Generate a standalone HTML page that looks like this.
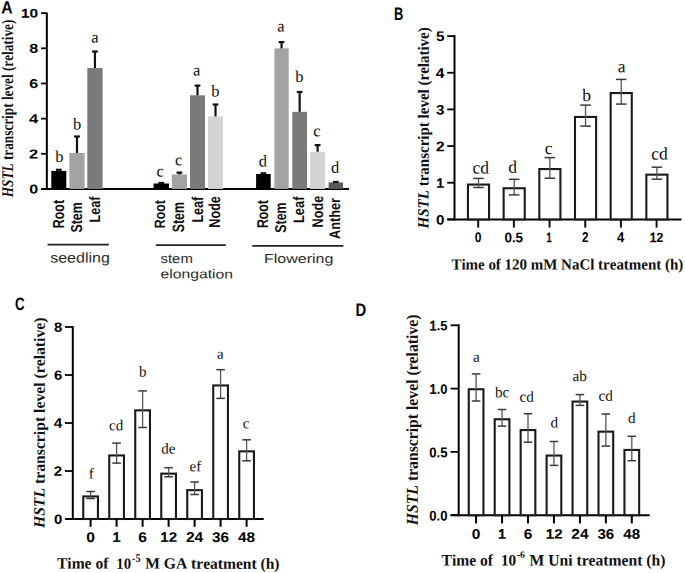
<!DOCTYPE html>
<html><head><meta charset="utf-8"><style>
html,body{margin:0;padding:0;background:#fff;}
body{width:685px;height:573px;overflow:hidden;}
svg{display:block;}
#w{width:685px;height:573px;}
text{font-kerning:none;font-variant-ligatures:none;}
</style></head><body>
<div id="w"><svg width="685" height="573" viewBox="0 0 685 573">
<rect width="685" height="573" fill="#fff"/>
<text transform="translate(1.200 13.500) rotate(0.03) scale(0.15789 0.17878)" y="0" font-size="100" fill="#000" xml:space="preserve"><tspan x="0.00" font-family='"Liberation Sans", sans-serif' font-weight="bold" font-style="normal">A</tspan></text>
<line x1="46.85" y1="12.60" x2="46.85" y2="189.90" stroke="#000" stroke-width="2.0"/>
<line x1="41.20" y1="188.95" x2="349.00" y2="188.95" stroke="#000" stroke-width="1.9"/>
<line x1="41.10" y1="188.95" x2="46.85" y2="188.95" stroke="#000" stroke-width="1.8"/>
<text transform="translate(29.162 193.471) rotate(0.03) scale(0.16076 0.12853)" y="0" font-size="100" fill="#000" xml:space="preserve"><tspan x="0.00" font-family='"Liberation Sans", sans-serif' font-weight="bold" font-style="normal">0</tspan></text>
<line x1="41.10" y1="153.79" x2="46.85" y2="153.79" stroke="#000" stroke-width="1.8"/>
<text transform="translate(29.038 158.440) rotate(0.03) scale(0.16299 0.13037)" y="0" font-size="100" fill="#000" xml:space="preserve"><tspan x="0.00" font-family='"Liberation Sans", sans-serif' font-weight="bold" font-style="normal">2</tspan></text>
<line x1="41.10" y1="118.63" x2="46.85" y2="118.63" stroke="#000" stroke-width="1.8"/>
<text transform="translate(28.910 123.280) rotate(0.03) scale(0.16528 0.13227)" y="0" font-size="100" fill="#000" xml:space="preserve"><tspan x="0.00" font-family='"Liberation Sans", sans-serif' font-weight="bold" font-style="normal">4</tspan></text>
<line x1="41.10" y1="83.47" x2="46.85" y2="83.47" stroke="#000" stroke-width="1.8"/>
<text transform="translate(29.162 87.991) rotate(0.03) scale(0.16076 0.12853)" y="0" font-size="100" fill="#000" xml:space="preserve"><tspan x="0.00" font-family='"Liberation Sans", sans-serif' font-weight="bold" font-style="normal">6</tspan></text>
<line x1="41.10" y1="48.31" x2="46.85" y2="48.31" stroke="#000" stroke-width="1.8"/>
<text transform="translate(29.162 52.831) rotate(0.03) scale(0.16076 0.12853)" y="0" font-size="100" fill="#000" xml:space="preserve"><tspan x="0.00" font-family='"Liberation Sans", sans-serif' font-weight="bold" font-style="normal">8</tspan></text>
<line x1="41.10" y1="13.15" x2="46.85" y2="13.15" stroke="#000" stroke-width="1.8"/>
<text transform="translate(20.910 17.492) rotate(0.03) scale(0.15459 0.12331)" y="0" font-size="100" fill="#000" xml:space="preserve"><tspan x="0.00" font-family='"Liberation Sans", sans-serif' font-weight="normal" font-style="normal" stroke="#000" stroke-width="5.00">1</tspan><tspan x="55.60" font-family='"Liberation Sans", sans-serif' font-weight="bold" font-style="normal">0</tspan></text>
<text transform="translate(13.200 197.194) rotate(-89.97) scale(0.13247 0.16336)" y="0" font-size="100" fill="#111" xml:space="preserve"><tspan x="0.00" font-family='"Liberation Serif", serif' font-weight="bold" font-style="italic">HSTL</tspan><tspan x="255.60" font-family='"Liberation Serif", serif' font-weight="bold" font-style="normal"> transcript level (relative)</tspan></text>
<rect x="51.30" y="170.90" width="15.00" height="18.05" fill="#000"/>
<line x1="55.90" y1="169.80" x2="61.70" y2="169.80" stroke="#111" stroke-width="2.2"/>
<rect x="69.40" y="153.00" width="15.20" height="35.95" fill="#a3a3a3"/>
<line x1="77.00" y1="136.50" x2="77.00" y2="153.00" stroke="#111" stroke-width="2.2"/>
<line x1="74.10" y1="136.50" x2="79.90" y2="136.50" stroke="#111" stroke-width="2.2"/>
<rect x="87.30" y="68.00" width="15.30" height="120.95" fill="#7a7a7a"/>
<line x1="94.95" y1="51.50" x2="94.95" y2="68.00" stroke="#111" stroke-width="2.2"/>
<line x1="92.05" y1="51.50" x2="97.85" y2="51.50" stroke="#111" stroke-width="2.2"/>
<rect x="153.60" y="183.50" width="15.40" height="5.45" fill="#000"/>
<line x1="158.40" y1="183.00" x2="164.20" y2="183.00" stroke="#111" stroke-width="2.2"/>
<rect x="171.80" y="174.40" width="15.20" height="14.55" fill="#a3a3a3"/>
<line x1="179.40" y1="172.60" x2="179.40" y2="174.40" stroke="#111" stroke-width="2.2"/>
<line x1="176.50" y1="172.60" x2="182.30" y2="172.60" stroke="#111" stroke-width="2.2"/>
<rect x="190.00" y="95.30" width="15.00" height="93.65" fill="#7a7a7a"/>
<line x1="197.50" y1="85.60" x2="197.50" y2="95.30" stroke="#111" stroke-width="2.2"/>
<line x1="194.60" y1="85.60" x2="200.40" y2="85.60" stroke="#111" stroke-width="2.2"/>
<rect x="208.00" y="116.40" width="15.00" height="72.55" fill="#d4d4d4"/>
<line x1="215.50" y1="104.50" x2="215.50" y2="116.40" stroke="#111" stroke-width="2.2"/>
<line x1="212.60" y1="104.50" x2="218.40" y2="104.50" stroke="#111" stroke-width="2.2"/>
<rect x="256.10" y="174.00" width="14.60" height="14.95" fill="#000"/>
<line x1="260.50" y1="173.30" x2="266.30" y2="173.30" stroke="#111" stroke-width="2.2"/>
<rect x="274.40" y="48.40" width="14.30" height="140.55" fill="#a3a3a3"/>
<line x1="281.55" y1="42.10" x2="281.55" y2="48.40" stroke="#111" stroke-width="2.2"/>
<line x1="278.65" y1="42.10" x2="284.45" y2="42.10" stroke="#111" stroke-width="2.2"/>
<rect x="292.30" y="111.80" width="14.70" height="77.15" fill="#7a7a7a"/>
<line x1="299.65" y1="92.00" x2="299.65" y2="111.80" stroke="#111" stroke-width="2.2"/>
<line x1="296.75" y1="92.00" x2="302.55" y2="92.00" stroke="#111" stroke-width="2.2"/>
<rect x="310.10" y="151.80" width="15.00" height="37.15" fill="#d4d4d4"/>
<line x1="317.60" y1="145.10" x2="317.60" y2="151.80" stroke="#111" stroke-width="2.2"/>
<line x1="314.70" y1="145.10" x2="320.50" y2="145.10" stroke="#111" stroke-width="2.2"/>
<rect x="328.60" y="182.50" width="14.40" height="6.45" fill="#5a5a5a"/>
<line x1="332.90" y1="182.00" x2="338.70" y2="182.00" stroke="#111" stroke-width="2.2"/>
<text x="55.17" y="161.94" transform="rotate(0.03 55.17 161.94)" font-family='"Liberation Serif", serif' font-size="16.5" fill="#111">b</text>
<text x="73.12" y="129.44" transform="rotate(0.03 73.12 129.44)" font-family='"Liberation Serif", serif' font-size="16.5" fill="#111">b</text>
<text x="91.14" y="42.44" transform="rotate(0.03 91.14 42.44)" font-family='"Liberation Serif", serif' font-size="16.5" fill="#111">a</text>
<text x="156.54" y="176.44" transform="rotate(0.03 156.54 176.44)" font-family='"Liberation Serif", serif' font-size="16.5" fill="#111">c</text>
<text x="174.99" y="165.23" transform="rotate(0.03 174.99 165.23)" font-family='"Liberation Serif", serif' font-size="16.5" fill="#111">c</text>
<text x="193.09" y="75.44" transform="rotate(0.03 193.09 75.44)" font-family='"Liberation Serif", serif' font-size="16.5" fill="#111">a</text>
<text x="211.23" y="96.63" transform="rotate(0.03 211.23 96.63)" font-family='"Liberation Serif", serif' font-size="16.5" fill="#111">b</text>
<text x="258.68" y="166.53" transform="rotate(0.03 258.68 166.53)" font-family='"Liberation Serif", serif' font-size="16.5" fill="#111">d</text>
<text x="277.14" y="31.54" transform="rotate(0.03 277.14 31.54)" font-family='"Liberation Serif", serif' font-size="16.5" fill="#111">a</text>
<text x="295.23" y="82.03" transform="rotate(0.03 295.23 82.03)" font-family='"Liberation Serif", serif' font-size="16.5" fill="#111">b</text>
<text x="313.29" y="136.34" transform="rotate(0.03 313.29 136.34)" font-family='"Liberation Serif", serif' font-size="16.5" fill="#111">c</text>
<text x="331.02" y="172.84" transform="rotate(0.03 331.02 172.84)" font-family='"Liberation Serif", serif' font-size="16.5" fill="#111">d</text>
<text transform="translate(63.740 228.200) rotate(-89.97) scale(0.12429 0.16046)" y="0" font-size="100" fill="#111" xml:space="preserve"><tspan x="0.00" font-family='"Liberation Sans", sans-serif' font-weight="bold" font-style="normal">Root</tspan></text>
<text transform="translate(81.740 232.600) rotate(-89.97) scale(0.12474 0.15960)" y="0" font-size="100" fill="#111" xml:space="preserve"><tspan x="0.00" font-family='"Liberation Sans", sans-serif' font-weight="bold" font-style="normal">Stem</tspan></text>
<text transform="translate(99.648 222.500) rotate(-89.97) scale(0.12682 0.15238)" y="0" font-size="100" fill="#111" xml:space="preserve"><tspan x="0.00" font-family='"Liberation Sans", sans-serif' font-weight="bold" font-style="normal">Leaf</tspan></text>
<text transform="translate(165.350 228.200) rotate(-89.97) scale(0.12297 0.15043)" y="0" font-size="100" fill="#111" xml:space="preserve"><tspan x="0.00" font-family='"Liberation Sans", sans-serif' font-weight="bold" font-style="normal">Root</tspan></text>
<text transform="translate(184.035 232.300) rotate(-89.97) scale(0.12393 0.16525)" y="0" font-size="100" fill="#111" xml:space="preserve"><tspan x="0.00" font-family='"Liberation Sans", sans-serif' font-weight="bold" font-style="normal">Stem</tspan></text>
<text transform="translate(202.642 222.600) rotate(-89.97) scale(0.12585 0.15782)" y="0" font-size="100" fill="#111" xml:space="preserve"><tspan x="0.00" font-family='"Liberation Sans", sans-serif' font-weight="bold" font-style="normal">Leaf</tspan></text>
<text transform="translate(220.241 227.700) rotate(-89.97) scale(0.12640 0.15918)" y="0" font-size="100" fill="#111" xml:space="preserve"><tspan x="0.00" font-family='"Liberation Sans", sans-serif' font-weight="bold" font-style="normal">Node</tspan></text>
<text transform="translate(268.442 228.100) rotate(-89.97) scale(0.12341 0.15759)" y="0" font-size="100" fill="#111" xml:space="preserve"><tspan x="0.00" font-family='"Liberation Sans", sans-serif' font-weight="bold" font-style="normal">Root</tspan></text>
<text transform="translate(286.242 232.700) rotate(-89.97) scale(0.12352 0.15819)" y="0" font-size="100" fill="#111" xml:space="preserve"><tspan x="0.00" font-family='"Liberation Sans", sans-serif' font-weight="bold" font-style="normal">Stem</tspan></text>
<text transform="translate(304.248 223.000) rotate(-89.97) scale(0.12877 0.15238)" y="0" font-size="100" fill="#111" xml:space="preserve"><tspan x="0.00" font-family='"Liberation Sans", sans-serif' font-weight="bold" font-style="normal">Leaf</tspan></text>
<text transform="translate(322.545 227.400) rotate(-89.97) scale(0.12640 0.15510)" y="0" font-size="100" fill="#111" xml:space="preserve"><tspan x="0.00" font-family='"Liberation Sans", sans-serif' font-weight="bold" font-style="normal">Node</tspan></text>
<text transform="translate(340.348 238.900) rotate(-89.97) scale(0.12725 0.15238)" y="0" font-size="100" fill="#111" xml:space="preserve"><tspan x="0.00" font-family='"Liberation Sans", sans-serif' font-weight="bold" font-style="normal">Anther</tspan></text>
<line x1="47.60" y1="244.60" x2="108.90" y2="244.60" stroke="#222" stroke-width="1.8"/>
<line x1="155.80" y1="245.10" x2="225.80" y2="245.10" stroke="#222" stroke-width="1.8"/>
<line x1="252.30" y1="245.80" x2="343.40" y2="245.80" stroke="#222" stroke-width="1.8"/>
<text transform="translate(50.200 262.380) rotate(0.03) scale(0.16004 0.14041)" y="0" font-size="100" fill="#2b2b2b" xml:space="preserve"><tspan x="0.00" font-family='"Liberation Sans", sans-serif' font-weight="normal" font-style="normal">seedling</tspan></text>
<text transform="translate(160.500 263.067) rotate(0.03) scale(0.14952 0.13262)" y="0" font-size="100" fill="#2b2b2b" xml:space="preserve"><tspan x="0.00" font-family='"Liberation Sans", sans-serif' font-weight="normal" font-style="normal">stem</tspan></text>
<text transform="translate(160.500 278.347) rotate(0.03) scale(0.15735 0.12755)" y="0" font-size="100" fill="#2b2b2b" xml:space="preserve"><tspan x="0.00" font-family='"Liberation Sans", sans-serif' font-weight="normal" font-style="normal">elongation</tspan></text>
<text transform="translate(264.000 263.002) rotate(0.03) scale(0.16013 0.12969)" y="0" font-size="100" fill="#2b2b2b" xml:space="preserve"><tspan x="0.00" font-family='"Liberation Sans", sans-serif' font-weight="normal" font-style="normal">Flowering</tspan></text>
<text transform="translate(394.100 19.800) rotate(0.03) scale(0.12881 0.18023)" y="0" font-size="100" fill="#000" xml:space="preserve"><tspan x="0.00" font-family='"Liberation Sans", sans-serif' font-weight="bold" font-style="normal">B</tspan></text>
<line x1="454.50" y1="35.20" x2="454.50" y2="220.40" stroke="#000" stroke-width="2.0"/>
<line x1="447.20" y1="219.40" x2="681.50" y2="219.40" stroke="#000" stroke-width="2.0"/>
<line x1="447.20" y1="219.40" x2="454.50" y2="219.40" stroke="#000" stroke-width="1.8"/>
<text transform="translate(436.080 224.413) rotate(0.03) scale(0.15144 0.13701)" y="0" font-size="100" fill="#000" xml:space="preserve"><tspan x="0.00" font-family='"Liberation Sans", sans-serif' font-weight="bold" font-style="normal">0</tspan></text>
<line x1="447.20" y1="182.74" x2="454.50" y2="182.74" stroke="#000" stroke-width="1.8"/>
<text transform="translate(436.201 187.561) rotate(0.03) scale(0.14284 0.13144)" y="0" font-size="100" fill="#000" xml:space="preserve"><tspan x="0.00" font-family='"Liberation Sans", sans-serif' font-weight="normal" font-style="normal" stroke="#000" stroke-width="5.00">1</tspan></text>
<line x1="447.20" y1="146.08" x2="454.50" y2="146.08" stroke="#000" stroke-width="1.8"/>
<text transform="translate(435.964 151.230) rotate(0.03) scale(0.15353 0.13897)" y="0" font-size="100" fill="#000" xml:space="preserve"><tspan x="0.00" font-family='"Liberation Sans", sans-serif' font-weight="bold" font-style="normal">2</tspan></text>
<line x1="447.20" y1="109.42" x2="454.50" y2="109.42" stroke="#000" stroke-width="1.8"/>
<text transform="translate(436.091 114.420) rotate(0.03) scale(0.15123 0.13681)" y="0" font-size="100" fill="#000" xml:space="preserve"><tspan x="0.00" font-family='"Liberation Sans", sans-serif' font-weight="bold" font-style="normal">3</tspan></text>
<line x1="447.20" y1="72.76" x2="454.50" y2="72.76" stroke="#000" stroke-width="1.8"/>
<text transform="translate(435.844 77.910) rotate(0.03) scale(0.15569 0.14099)" y="0" font-size="100" fill="#000" xml:space="preserve"><tspan x="0.00" font-family='"Liberation Sans", sans-serif' font-weight="bold" font-style="normal">4</tspan></text>
<line x1="447.20" y1="36.10" x2="454.50" y2="36.10" stroke="#000" stroke-width="1.8"/>
<text transform="translate(435.964 41.111) rotate(0.03) scale(0.15353 0.13897)" y="0" font-size="100" fill="#000" xml:space="preserve"><tspan x="0.00" font-family='"Liberation Sans", sans-serif' font-weight="bold" font-style="normal">5</tspan></text>
<text transform="translate(428.600 228.380) rotate(-89.97) scale(0.15005 0.15878)" y="0" font-size="100" fill="#111" xml:space="preserve"><tspan x="0.00" font-family='"Liberation Serif", serif' font-weight="bold" font-style="italic">HSTL</tspan><tspan x="255.60" font-family='"Liberation Serif", serif' font-weight="bold" font-style="normal"> transcript level (relative)</tspan></text>
<rect x="467.95" y="184.55" width="21.10" height="34.85" fill="#fff" stroke="#1a1a1a" stroke-width="2.1"/>
<line x1="478.50" y1="178.40" x2="478.50" y2="187.50" stroke="#555" stroke-width="1.3"/>
<line x1="473.20" y1="178.40" x2="483.80" y2="178.40" stroke="#3a3a3a" stroke-width="1.5"/>
<line x1="473.20" y1="187.50" x2="483.80" y2="187.50" stroke="#3a3a3a" stroke-width="1.5"/>
<line x1="478.20" y1="219.40" x2="478.20" y2="227.60" stroke="#111" stroke-width="2.0"/>
<rect x="503.63" y="188.25" width="21.10" height="31.15" fill="#fff" stroke="#1a1a1a" stroke-width="2.1"/>
<line x1="514.18" y1="179.30" x2="514.18" y2="194.90" stroke="#555" stroke-width="1.3"/>
<line x1="508.88" y1="179.30" x2="519.48" y2="179.30" stroke="#3a3a3a" stroke-width="1.5"/>
<line x1="508.88" y1="194.90" x2="519.48" y2="194.90" stroke="#3a3a3a" stroke-width="1.5"/>
<line x1="513.88" y1="219.40" x2="513.88" y2="227.60" stroke="#111" stroke-width="2.0"/>
<rect x="539.31" y="169.05" width="21.10" height="50.35" fill="#fff" stroke="#1a1a1a" stroke-width="2.1"/>
<line x1="549.86" y1="157.60" x2="549.86" y2="178.20" stroke="#555" stroke-width="1.3"/>
<line x1="544.56" y1="157.60" x2="555.16" y2="157.60" stroke="#3a3a3a" stroke-width="1.5"/>
<line x1="544.56" y1="178.20" x2="555.16" y2="178.20" stroke="#3a3a3a" stroke-width="1.5"/>
<line x1="549.56" y1="219.40" x2="549.56" y2="227.60" stroke="#111" stroke-width="2.0"/>
<rect x="574.99" y="116.95" width="21.10" height="102.45" fill="#fff" stroke="#1a1a1a" stroke-width="2.1"/>
<line x1="585.54" y1="105.10" x2="585.54" y2="126.10" stroke="#555" stroke-width="1.3"/>
<line x1="580.24" y1="105.10" x2="590.84" y2="105.10" stroke="#3a3a3a" stroke-width="1.5"/>
<line x1="580.24" y1="126.10" x2="590.84" y2="126.10" stroke="#3a3a3a" stroke-width="1.5"/>
<line x1="585.24" y1="219.40" x2="585.24" y2="227.60" stroke="#111" stroke-width="2.0"/>
<rect x="610.67" y="93.05" width="21.10" height="126.35" fill="#fff" stroke="#1a1a1a" stroke-width="2.1"/>
<line x1="621.22" y1="79.40" x2="621.22" y2="104.10" stroke="#555" stroke-width="1.3"/>
<line x1="615.92" y1="79.40" x2="626.52" y2="79.40" stroke="#3a3a3a" stroke-width="1.5"/>
<line x1="615.92" y1="104.10" x2="626.52" y2="104.10" stroke="#3a3a3a" stroke-width="1.5"/>
<line x1="620.92" y1="219.40" x2="620.92" y2="227.60" stroke="#111" stroke-width="2.0"/>
<rect x="646.35" y="174.65" width="21.10" height="44.75" fill="#fff" stroke="#1a1a1a" stroke-width="2.1"/>
<line x1="656.90" y1="167.20" x2="656.90" y2="179.20" stroke="#555" stroke-width="1.3"/>
<line x1="651.60" y1="167.20" x2="662.20" y2="167.20" stroke="#3a3a3a" stroke-width="1.5"/>
<line x1="651.60" y1="179.20" x2="662.20" y2="179.20" stroke="#3a3a3a" stroke-width="1.5"/>
<line x1="656.60" y1="219.40" x2="656.60" y2="227.60" stroke="#111" stroke-width="2.0"/>
<text transform="translate(474.800 242.160) rotate(0.03) scale(0.12050 0.13983)" y="0" font-size="100" fill="#000" xml:space="preserve"><tspan x="0.00" font-family='"Liberation Sans", sans-serif' font-weight="bold" font-style="normal">0</tspan></text>
<text transform="translate(504.400 242.160) rotate(0.03) scale(0.13453 0.13983)" y="0" font-size="100" fill="#000" xml:space="preserve"><tspan x="0.00" font-family='"Liberation Sans", sans-serif' font-weight="bold" font-style="normal">0.5</tspan></text>
<text transform="translate(546.535 241.965) rotate(0.03) scale(0.09406 0.13415)" y="0" font-size="100" fill="#000" xml:space="preserve"><tspan x="0.00" font-family='"Liberation Sans", sans-serif' font-weight="normal" font-style="normal" stroke="#000" stroke-width="5.00">1</tspan></text>
<text transform="translate(581.900 242.300) rotate(0.03) scale(0.11691 0.14183)" y="0" font-size="100" fill="#000" xml:space="preserve"><tspan x="0.00" font-family='"Liberation Sans", sans-serif' font-weight="bold" font-style="normal">2</tspan></text>
<text transform="translate(617.000 242.300) rotate(0.03) scale(0.13129 0.14390)" y="0" font-size="100" fill="#000" xml:space="preserve"><tspan x="0.00" font-family='"Liberation Sans", sans-serif' font-weight="bold" font-style="normal">4</tspan></text>
<text transform="translate(649.703 241.965) rotate(0.03) scale(0.12137 0.13415)" y="0" font-size="100" fill="#000" xml:space="preserve"><tspan x="0.00" font-family='"Liberation Sans", sans-serif' font-weight="normal" font-style="normal" stroke="#000" stroke-width="5.00">1</tspan><tspan x="55.60" font-family='"Liberation Sans", sans-serif' font-weight="bold" font-style="normal">2</tspan></text>
<text x="472.49" y="173.42" transform="rotate(0.03 472.49 173.42)" font-family='"Liberation Serif", serif' font-size="17.5" fill="#111">cd</text>
<text x="508.33" y="172.82" transform="rotate(0.03 508.33 172.82)" font-family='"Liberation Serif", serif' font-size="17.5" fill="#111">d</text>
<text x="544.87" y="153.92" transform="rotate(0.03 544.87 153.92)" font-family='"Liberation Serif", serif' font-size="17.5" fill="#111">c</text>
<text x="582.22" y="101.12" transform="rotate(0.03 582.22 101.12)" font-family='"Liberation Serif", serif' font-size="17.5" fill="#111">b</text>
<text x="617.87" y="72.23" transform="rotate(0.03 617.87 72.23)" font-family='"Liberation Serif", serif' font-size="17.5" fill="#111">a</text>
<text x="651.34" y="159.42" transform="rotate(0.03 651.34 159.42)" font-family='"Liberation Serif", serif' font-size="17.5" fill="#111">cd</text>
<text transform="translate(451.400 269.500) rotate(0.03) scale(0.14979 0.15420)" y="0" font-size="100" fill="#111" xml:space="preserve"><tspan x="0.00" font-family='"Liberation Serif", serif' font-weight="bold" font-style="normal">Time of 120 mM NaCl treatment (h)</tspan></text>
<text transform="translate(15.000 310.421) rotate(0.03) scale(0.13296 0.17938)" y="0" font-size="100" fill="#000" xml:space="preserve"><tspan x="0.00" font-family='"Liberation Sans", sans-serif' font-weight="bold" font-style="normal">C</tspan></text>
<line x1="72.80" y1="326.20" x2="72.80" y2="520.00" stroke="#000" stroke-width="2.0"/>
<line x1="65.00" y1="519.00" x2="263.70" y2="519.00" stroke="#000" stroke-width="2.0"/>
<line x1="65.00" y1="519.00" x2="72.80" y2="519.00" stroke="#000" stroke-width="1.8"/>
<text transform="translate(53.953 523.716) rotate(0.03) scale(0.14833 0.13418)" y="0" font-size="100" fill="#000" xml:space="preserve"><tspan x="0.00" font-family='"Liberation Sans", sans-serif' font-weight="bold" font-style="normal">0</tspan></text>
<line x1="65.00" y1="471.00" x2="72.80" y2="471.00" stroke="#000" stroke-width="1.8"/>
<text transform="translate(53.839 475.850) rotate(0.03) scale(0.15038 0.13610)" y="0" font-size="100" fill="#000" xml:space="preserve"><tspan x="0.00" font-family='"Liberation Sans", sans-serif' font-weight="bold" font-style="normal">2</tspan></text>
<line x1="65.00" y1="423.00" x2="72.80" y2="423.00" stroke="#000" stroke-width="1.8"/>
<text transform="translate(53.722 427.850) rotate(0.03) scale(0.15249 0.13808)" y="0" font-size="100" fill="#000" xml:space="preserve"><tspan x="0.00" font-family='"Liberation Sans", sans-serif' font-weight="bold" font-style="normal">4</tspan></text>
<line x1="65.00" y1="375.00" x2="72.80" y2="375.00" stroke="#000" stroke-width="1.8"/>
<text transform="translate(53.953 379.716) rotate(0.03) scale(0.14833 0.13418)" y="0" font-size="100" fill="#000" xml:space="preserve"><tspan x="0.00" font-family='"Liberation Sans", sans-serif' font-weight="bold" font-style="normal">6</tspan></text>
<line x1="65.00" y1="327.00" x2="72.80" y2="327.00" stroke="#000" stroke-width="1.8"/>
<text transform="translate(53.953 331.716) rotate(0.03) scale(0.14833 0.13418)" y="0" font-size="100" fill="#000" xml:space="preserve"><tspan x="0.00" font-family='"Liberation Sans", sans-serif' font-weight="bold" font-style="normal">8</tspan></text>
<text transform="translate(44.600 528.074) rotate(-89.97) scale(0.15713 0.15878)" y="0" font-size="100" fill="#111" xml:space="preserve"><tspan x="0.00" font-family='"Liberation Serif", serif' font-weight="bold" font-style="italic">HSTL</tspan><tspan x="255.60" font-family='"Liberation Serif", serif' font-weight="bold" font-style="normal"> transcript level (relative)</tspan></text>
<rect x="83.25" y="496.45" width="14.70" height="22.55" fill="#fff" stroke="#1a1a1a" stroke-width="2.1"/>
<line x1="90.60" y1="491.50" x2="90.60" y2="498.50" stroke="#555" stroke-width="1.3"/>
<line x1="86.30" y1="491.50" x2="94.90" y2="491.50" stroke="#3a3a3a" stroke-width="1.5"/>
<line x1="86.30" y1="498.50" x2="94.90" y2="498.50" stroke="#3a3a3a" stroke-width="1.5"/>
<line x1="90.60" y1="519.00" x2="90.60" y2="526.80" stroke="#000" stroke-width="2.0"/>
<text transform="translate(86.260 541.959) rotate(0.03) scale(0.15610 0.14124)" y="0" font-size="100" fill="#000" xml:space="preserve"><tspan x="0.00" font-family='"Liberation Sans", sans-serif' font-weight="bold" font-style="normal">0</tspan></text>
<rect x="109.25" y="455.45" width="14.70" height="63.55" fill="#fff" stroke="#1a1a1a" stroke-width="2.1"/>
<line x1="116.60" y1="443.10" x2="116.60" y2="463.10" stroke="#555" stroke-width="1.3"/>
<line x1="112.30" y1="443.10" x2="120.90" y2="443.10" stroke="#3a3a3a" stroke-width="1.5"/>
<line x1="112.30" y1="463.10" x2="120.90" y2="463.10" stroke="#3a3a3a" stroke-width="1.5"/>
<line x1="116.60" y1="519.00" x2="116.60" y2="526.80" stroke="#000" stroke-width="2.0"/>
<text transform="translate(112.507 541.761) rotate(0.03) scale(0.14724 0.13550)" y="0" font-size="100" fill="#000" xml:space="preserve"><tspan x="0.00" font-family='"Liberation Sans", sans-serif' font-weight="normal" font-style="normal" stroke="#000" stroke-width="5.00">1</tspan></text>
<rect x="135.25" y="410.35" width="14.70" height="108.65" fill="#fff" stroke="#1a1a1a" stroke-width="2.1"/>
<line x1="142.60" y1="390.90" x2="142.60" y2="427.50" stroke="#555" stroke-width="1.3"/>
<line x1="138.30" y1="390.90" x2="146.90" y2="390.90" stroke="#3a3a3a" stroke-width="1.5"/>
<line x1="138.30" y1="427.50" x2="146.90" y2="427.50" stroke="#3a3a3a" stroke-width="1.5"/>
<line x1="142.60" y1="519.00" x2="142.60" y2="526.80" stroke="#000" stroke-width="2.0"/>
<text transform="translate(138.260 541.959) rotate(0.03) scale(0.15610 0.14124)" y="0" font-size="100" fill="#000" xml:space="preserve"><tspan x="0.00" font-family='"Liberation Sans", sans-serif' font-weight="bold" font-style="normal">6</tspan></text>
<rect x="161.25" y="473.65" width="14.70" height="45.35" fill="#fff" stroke="#1a1a1a" stroke-width="2.1"/>
<line x1="168.60" y1="467.70" x2="168.60" y2="476.80" stroke="#555" stroke-width="1.3"/>
<line x1="164.30" y1="467.70" x2="172.90" y2="467.70" stroke="#3a3a3a" stroke-width="1.5"/>
<line x1="164.30" y1="476.80" x2="172.90" y2="476.80" stroke="#3a3a3a" stroke-width="1.5"/>
<line x1="168.60" y1="519.00" x2="168.60" y2="526.80" stroke="#000" stroke-width="2.0"/>
<text transform="translate(160.331 541.761) rotate(0.03) scale(0.15214 0.13550)" y="0" font-size="100" fill="#000" xml:space="preserve"><tspan x="0.00" font-family='"Liberation Sans", sans-serif' font-weight="normal" font-style="normal" stroke="#000" stroke-width="5.00">1</tspan><tspan x="55.60" font-family='"Liberation Sans", sans-serif' font-weight="bold" font-style="normal">2</tspan></text>
<rect x="187.25" y="490.15" width="14.70" height="28.85" fill="#fff" stroke="#1a1a1a" stroke-width="2.1"/>
<line x1="194.60" y1="482.00" x2="194.60" y2="494.50" stroke="#555" stroke-width="1.3"/>
<line x1="190.30" y1="482.00" x2="198.90" y2="482.00" stroke="#3a3a3a" stroke-width="1.5"/>
<line x1="190.30" y1="494.50" x2="198.90" y2="494.50" stroke="#3a3a3a" stroke-width="1.5"/>
<line x1="194.60" y1="519.00" x2="194.60" y2="526.80" stroke="#000" stroke-width="2.0"/>
<text transform="translate(185.951 542.100) rotate(0.03) scale(0.15556 0.14327)" y="0" font-size="100" fill="#000" xml:space="preserve"><tspan x="0.00" font-family='"Liberation Sans", sans-serif' font-weight="bold" font-style="normal">24</tspan></text>
<rect x="213.25" y="385.45" width="14.70" height="133.55" fill="#fff" stroke="#1a1a1a" stroke-width="2.1"/>
<line x1="220.60" y1="369.70" x2="220.60" y2="398.40" stroke="#555" stroke-width="1.3"/>
<line x1="216.30" y1="369.70" x2="224.90" y2="369.70" stroke="#3a3a3a" stroke-width="1.5"/>
<line x1="216.30" y1="398.40" x2="224.90" y2="398.40" stroke="#3a3a3a" stroke-width="1.5"/>
<line x1="220.60" y1="519.00" x2="220.60" y2="526.80" stroke="#000" stroke-width="2.0"/>
<text transform="translate(212.083 541.945) rotate(0.03) scale(0.15319 0.14104)" y="0" font-size="100" fill="#000" xml:space="preserve"><tspan x="0.00" font-family='"Liberation Sans", sans-serif' font-weight="bold" font-style="normal">36</tspan></text>
<rect x="239.25" y="451.35" width="14.70" height="67.65" fill="#fff" stroke="#1a1a1a" stroke-width="2.1"/>
<line x1="246.60" y1="439.80" x2="246.60" y2="460.80" stroke="#555" stroke-width="1.3"/>
<line x1="242.30" y1="439.80" x2="250.90" y2="439.80" stroke="#3a3a3a" stroke-width="1.5"/>
<line x1="242.30" y1="460.80" x2="250.90" y2="460.80" stroke="#3a3a3a" stroke-width="1.5"/>
<line x1="246.60" y1="519.00" x2="246.60" y2="526.80" stroke="#000" stroke-width="2.0"/>
<text transform="translate(238.071 541.959) rotate(0.03) scale(0.15340 0.14124)" y="0" font-size="100" fill="#000" xml:space="preserve"><tspan x="0.00" font-family='"Liberation Sans", sans-serif' font-weight="bold" font-style="normal">48</tspan></text>
<text x="88.75" y="478.50" transform="rotate(0.03 88.75 478.50)" font-family='"Liberation Serif", serif' font-size="15" fill="#111">f</text>
<text x="109.02" y="430.15" transform="rotate(0.03 109.02 430.15)" font-family='"Liberation Serif", serif' font-size="15" fill="#111">cd</text>
<text x="139.10" y="376.55" transform="rotate(0.03 139.10 376.55)" font-family='"Liberation Serif", serif' font-size="15" fill="#111">b</text>
<text x="161.27" y="453.55" transform="rotate(0.03 161.27 453.55)" font-family='"Liberation Serif", serif' font-size="15" fill="#111">de</text>
<text x="189.56" y="471.15" transform="rotate(0.03 189.56 471.15)" font-family='"Liberation Serif", serif' font-size="15" fill="#111">ef</text>
<text x="217.02" y="358.85" transform="rotate(0.03 217.02 358.85)" font-family='"Liberation Serif", serif' font-size="15" fill="#111">a</text>
<text x="242.82" y="428.35" transform="rotate(0.03 242.82 428.35)" font-family='"Liberation Serif", serif' font-size="15" fill="#111">c</text>
<text transform="translate(56.900 568.600) rotate(0.03) scale(0.15596 0.15725)" y="0" font-size="100" fill="#111" xml:space="preserve"><tspan x="0.00" font-family='"Liberation Serif", serif' font-weight="bold" font-style="normal">Time of</tspan></text>
<text transform="translate(116.300 568.700) rotate(0.03) scale(0.14900 0.15606)" y="0" font-size="100" fill="#111" xml:space="preserve"><tspan x="0.00" font-family='"Liberation Serif", serif' font-weight="bold" font-style="normal">10</tspan></text>
<text transform="translate(132.000 562.081) rotate(0.03) scale(0.10204 0.11880)" y="0" font-size="100" fill="#111" xml:space="preserve"><tspan x="0.00" font-family='"Liberation Serif", serif' font-weight="bold" font-style="normal">-5</tspan></text>
<text transform="translate(145.300 568.600) rotate(0.03) scale(0.15565 0.15573)" y="0" font-size="100" fill="#111" xml:space="preserve"><tspan x="0.00" font-family='"Liberation Serif", serif' font-weight="bold" font-style="normal">M GA treatment (h)</tspan></text>
<text transform="translate(355.500 315.600) rotate(0.03) scale(0.14820 0.18169)" y="0" font-size="100" fill="#000" xml:space="preserve"><tspan x="0.00" font-family='"Liberation Sans", sans-serif' font-weight="bold" font-style="normal">D</tspan></text>
<line x1="458.70" y1="324.20" x2="458.70" y2="516.20" stroke="#000" stroke-width="2.0"/>
<line x1="450.60" y1="515.20" x2="649.60" y2="515.20" stroke="#000" stroke-width="2.0"/>
<line x1="450.60" y1="515.20" x2="458.70" y2="515.20" stroke="#000" stroke-width="1.8"/>
<text transform="translate(429.300 520.459) rotate(0.03) scale(0.13094 0.14124)" y="0" font-size="100" fill="#000" xml:space="preserve"><tspan x="0.00" font-family='"Liberation Sans", sans-serif' font-weight="bold" font-style="normal">0.0</tspan></text>
<line x1="450.60" y1="451.90" x2="458.70" y2="451.90" stroke="#000" stroke-width="1.8"/>
<text transform="translate(429.300 457.159) rotate(0.03) scale(0.13094 0.14124)" y="0" font-size="100" fill="#000" xml:space="preserve"><tspan x="0.00" font-family='"Liberation Sans", sans-serif' font-weight="bold" font-style="normal">0.5</tspan></text>
<line x1="450.60" y1="388.60" x2="458.70" y2="388.60" stroke="#000" stroke-width="1.8"/>
<text transform="translate(429.622 393.661) rotate(0.03) scale(0.12862 0.13550)" y="0" font-size="100" fill="#000" xml:space="preserve"><tspan x="0.00" font-family='"Liberation Sans", sans-serif' font-weight="normal" font-style="normal" stroke="#000" stroke-width="5.00">1</tspan><tspan x="55.60" font-family='"Liberation Sans", sans-serif' font-weight="bold" font-style="normal">.0</tspan></text>
<line x1="450.60" y1="325.30" x2="458.70" y2="325.30" stroke="#000" stroke-width="1.8"/>
<text transform="translate(429.622 330.361) rotate(0.03) scale(0.12862 0.13550)" y="0" font-size="100" fill="#000" xml:space="preserve"><tspan x="0.00" font-family='"Liberation Sans", sans-serif' font-weight="normal" font-style="normal" stroke="#000" stroke-width="5.00">1</tspan><tspan x="55.60" font-family='"Liberation Sans", sans-serif' font-weight="bold" font-style="normal">.5</tspan></text>
<text transform="translate(417.700 525.174) rotate(-89.97) scale(0.15713 0.16641)" y="0" font-size="100" fill="#111" xml:space="preserve"><tspan x="0.00" font-family='"Liberation Serif", serif' font-weight="bold" font-style="italic">HSTL</tspan><tspan x="255.60" font-family='"Liberation Serif", serif' font-weight="bold" font-style="normal"> transcript level (relative)</tspan></text>
<rect x="468.75" y="389.25" width="14.70" height="125.95" fill="#fff" stroke="#1a1a1a" stroke-width="2.1"/>
<line x1="476.10" y1="373.90" x2="476.10" y2="401.00" stroke="#555" stroke-width="1.3"/>
<line x1="471.80" y1="373.90" x2="480.40" y2="373.90" stroke="#3a3a3a" stroke-width="1.5"/>
<line x1="471.80" y1="401.00" x2="480.40" y2="401.00" stroke="#3a3a3a" stroke-width="1.5"/>
<line x1="476.10" y1="515.20" x2="476.10" y2="523.40" stroke="#000" stroke-width="2.0"/>
<text transform="translate(471.804 538.710) rotate(0.03) scale(0.15455 0.13983)" y="0" font-size="100" fill="#000" xml:space="preserve"><tspan x="0.00" font-family='"Liberation Sans", sans-serif' font-weight="bold" font-style="normal">0</tspan></text>
<rect x="494.70" y="419.25" width="14.70" height="95.95" fill="#fff" stroke="#1a1a1a" stroke-width="2.1"/>
<line x1="502.05" y1="409.50" x2="502.05" y2="426.10" stroke="#555" stroke-width="1.3"/>
<line x1="497.75" y1="409.50" x2="506.35" y2="409.50" stroke="#3a3a3a" stroke-width="1.5"/>
<line x1="497.75" y1="426.10" x2="506.35" y2="426.10" stroke="#3a3a3a" stroke-width="1.5"/>
<line x1="502.05" y1="515.20" x2="502.05" y2="523.40" stroke="#000" stroke-width="2.0"/>
<text transform="translate(497.997 538.515) rotate(0.03) scale(0.14577 0.13415)" y="0" font-size="100" fill="#000" xml:space="preserve"><tspan x="0.00" font-family='"Liberation Sans", sans-serif' font-weight="normal" font-style="normal" stroke="#000" stroke-width="5.00">1</tspan></text>
<rect x="520.65" y="430.05" width="14.70" height="85.15" fill="#fff" stroke="#1a1a1a" stroke-width="2.1"/>
<line x1="528.00" y1="413.70" x2="528.00" y2="442.20" stroke="#555" stroke-width="1.3"/>
<line x1="523.70" y1="413.70" x2="532.30" y2="413.70" stroke="#3a3a3a" stroke-width="1.5"/>
<line x1="523.70" y1="442.20" x2="532.30" y2="442.20" stroke="#3a3a3a" stroke-width="1.5"/>
<line x1="528.00" y1="515.20" x2="528.00" y2="523.40" stroke="#000" stroke-width="2.0"/>
<text transform="translate(523.704 538.710) rotate(0.03) scale(0.15455 0.13983)" y="0" font-size="100" fill="#000" xml:space="preserve"><tspan x="0.00" font-family='"Liberation Sans", sans-serif' font-weight="bold" font-style="normal">6</tspan></text>
<rect x="546.60" y="455.55" width="14.70" height="59.65" fill="#fff" stroke="#1a1a1a" stroke-width="2.1"/>
<line x1="553.95" y1="441.50" x2="553.95" y2="465.40" stroke="#555" stroke-width="1.3"/>
<line x1="549.65" y1="441.50" x2="558.25" y2="441.50" stroke="#3a3a3a" stroke-width="1.5"/>
<line x1="549.65" y1="465.40" x2="558.25" y2="465.40" stroke="#3a3a3a" stroke-width="1.5"/>
<line x1="553.95" y1="515.20" x2="553.95" y2="523.40" stroke="#000" stroke-width="2.0"/>
<text transform="translate(545.765 538.515) rotate(0.03) scale(0.15060 0.13415)" y="0" font-size="100" fill="#000" xml:space="preserve"><tspan x="0.00" font-family='"Liberation Sans", sans-serif' font-weight="normal" font-style="normal" stroke="#000" stroke-width="5.00">1</tspan><tspan x="55.60" font-family='"Liberation Sans", sans-serif' font-weight="bold" font-style="normal">2</tspan></text>
<rect x="572.55" y="401.55" width="14.70" height="113.65" fill="#fff" stroke="#1a1a1a" stroke-width="2.1"/>
<line x1="579.90" y1="394.60" x2="579.90" y2="405.40" stroke="#555" stroke-width="1.3"/>
<line x1="575.60" y1="394.60" x2="584.20" y2="394.60" stroke="#3a3a3a" stroke-width="1.5"/>
<line x1="575.60" y1="405.40" x2="584.20" y2="405.40" stroke="#3a3a3a" stroke-width="1.5"/>
<line x1="579.90" y1="515.20" x2="579.90" y2="523.40" stroke="#000" stroke-width="2.0"/>
<text transform="translate(571.338 538.850) rotate(0.03) scale(0.15399 0.14183)" y="0" font-size="100" fill="#000" xml:space="preserve"><tspan x="0.00" font-family='"Liberation Sans", sans-serif' font-weight="bold" font-style="normal">24</tspan></text>
<rect x="598.50" y="431.65" width="14.70" height="83.55" fill="#fff" stroke="#1a1a1a" stroke-width="2.1"/>
<line x1="605.85" y1="414.00" x2="605.85" y2="446.10" stroke="#555" stroke-width="1.3"/>
<line x1="601.55" y1="414.00" x2="610.15" y2="414.00" stroke="#3a3a3a" stroke-width="1.5"/>
<line x1="601.55" y1="446.10" x2="610.15" y2="446.10" stroke="#3a3a3a" stroke-width="1.5"/>
<line x1="605.85" y1="515.20" x2="605.85" y2="523.40" stroke="#000" stroke-width="2.0"/>
<text transform="translate(597.419 538.696) rotate(0.03) scale(0.15164 0.13963)" y="0" font-size="100" fill="#000" xml:space="preserve"><tspan x="0.00" font-family='"Liberation Sans", sans-serif' font-weight="bold" font-style="normal">36</tspan></text>
<rect x="624.45" y="449.95" width="14.70" height="65.25" fill="#fff" stroke="#1a1a1a" stroke-width="2.1"/>
<line x1="631.80" y1="436.30" x2="631.80" y2="460.70" stroke="#555" stroke-width="1.3"/>
<line x1="627.50" y1="436.30" x2="636.10" y2="436.30" stroke="#3a3a3a" stroke-width="1.5"/>
<line x1="627.50" y1="460.70" x2="636.10" y2="460.70" stroke="#3a3a3a" stroke-width="1.5"/>
<line x1="631.80" y1="515.20" x2="631.80" y2="523.40" stroke="#000" stroke-width="2.0"/>
<text transform="translate(623.357 538.710) rotate(0.03) scale(0.15185 0.13983)" y="0" font-size="100" fill="#000" xml:space="preserve"><tspan x="0.00" font-family='"Liberation Sans", sans-serif' font-weight="bold" font-style="normal">48</tspan></text>
<text x="473.03" y="361.85" transform="rotate(0.03 473.03 361.85)" font-family='"Liberation Serif", serif' font-size="15.2" fill="#111">a</text>
<text x="494.93" y="397.25" transform="rotate(0.03 494.93 397.25)" font-family='"Liberation Serif", serif' font-size="15.2" fill="#111">bc</text>
<text x="519.58" y="401.65" transform="rotate(0.03 519.58 401.65)" font-family='"Liberation Serif", serif' font-size="15.2" fill="#111">cd</text>
<text x="550.45" y="427.45" transform="rotate(0.03 550.45 427.45)" font-family='"Liberation Serif", serif' font-size="15.2" fill="#111">d</text>
<text x="572.53" y="381.05" transform="rotate(0.03 572.53 381.05)" font-family='"Liberation Serif", serif' font-size="15.2" fill="#111">ab</text>
<text x="598.58" y="400.65" transform="rotate(0.03 598.58 400.65)" font-family='"Liberation Serif", serif' font-size="15.2" fill="#111">cd</text>
<text x="628.05" y="423.05" transform="rotate(0.03 628.05 423.05)" font-family='"Liberation Serif", serif' font-size="15.2" fill="#111">d</text>
<text transform="translate(441.500 565.400) rotate(0.03) scale(0.15596 0.16031)" y="0" font-size="100" fill="#111" xml:space="preserve"><tspan x="0.00" font-family='"Liberation Serif", serif' font-weight="bold" font-style="normal">Time of</tspan></text>
<text transform="translate(501.000 565.600) rotate(0.03) scale(0.15200 0.15909)" y="0" font-size="100" fill="#111" xml:space="preserve"><tspan x="0.00" font-family='"Liberation Serif", serif' font-weight="bold" font-style="normal">10</tspan></text>
<text transform="translate(516.800 557.705) rotate(0.03) scale(0.09724 0.09524)" y="0" font-size="100" fill="#111" xml:space="preserve"><tspan x="0.00" font-family='"Liberation Serif", serif' font-weight="bold" font-style="normal">-6</tspan></text>
<text transform="translate(529.500 565.500) rotate(0.03) scale(0.15658 0.15878)" y="0" font-size="100" fill="#111" xml:space="preserve"><tspan x="0.00" font-family='"Liberation Serif", serif' font-weight="bold" font-style="normal">M Uni treatment (h)</tspan></text>
</svg></div>
</body></html>
